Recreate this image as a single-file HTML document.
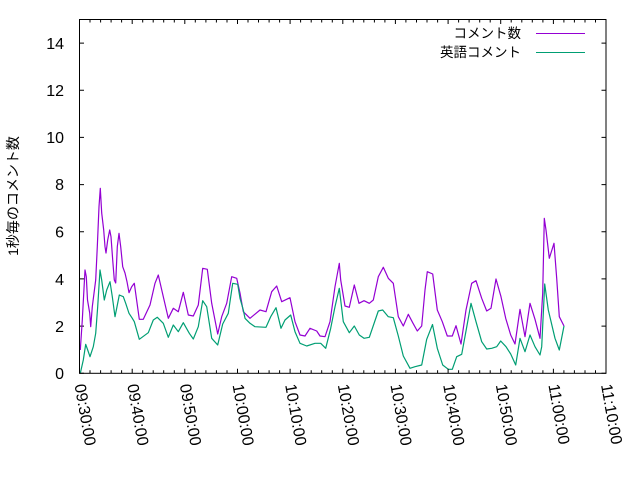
<!DOCTYPE html>
<html><head><meta charset="utf-8"><style>
html,body{margin:0;padding:0;background:#fff;}
svg{display:block;}
text{font-family:"Liberation Sans","Noto Sans CJK JP",sans-serif;fill:#000;}
</style></head><body>
<svg width="640" height="480" viewBox="0 0 640 480" xmlns="http://www.w3.org/2000/svg">
<rect x="0" y="0" width="640" height="480" fill="#fff"/>
<!-- y ticks -->
<g stroke="#000" stroke-width="1">
<path d="M79.5 373.3h4.5M79.5 326.1h4.5M79.5 278.9h4.5M79.5 231.8h4.5M79.5 184.6h4.5M79.5 137.4h4.5M79.5 90.2h4.5M79.5 43.1h4.5"/>
<path d="M606 373.3h-4.5M606 326.1h-4.5M606 278.9h-4.5M606 231.8h-4.5M606 184.6h-4.5M606 137.4h-4.5M606 90.2h-4.5M606 43.1h-4.5"/>
</g>
<g id="xt" stroke="#000" stroke-width="1"></g>
<text font-size="16" text-anchor="end" x="64" y="379">0</text>
<text font-size="16" text-anchor="end" x="64" y="332">2</text>
<text font-size="16" text-anchor="end" x="64" y="285">4</text>
<text font-size="16" text-anchor="end" x="64" y="237.5">6</text>
<text font-size="16" text-anchor="end" x="64" y="190">8</text>
<text font-size="16" text-anchor="end" x="64" y="143">10</text>
<text font-size="16" text-anchor="end" x="64" y="96">12</text>
<text font-size="16" text-anchor="end" x="64" y="49">14</text>
<text font-size="14" text-anchor="middle" transform="translate(18 196) rotate(-90)">1秒毎のコメント数</text>
<!-- x labels -->
<g font-size="16">
<text transform="translate(74.5 385) rotate(80)">09:30:00</text>
<text transform="translate(127.2 385) rotate(80)">09:40:00</text>
<text transform="translate(179.8 385) rotate(80)">09:50:00</text>
<text transform="translate(232.5 385) rotate(80)">10:00:00</text>
<text transform="translate(285.1 385) rotate(80)">10:10:00</text>
<text transform="translate(337.8 385) rotate(80)">10:20:00</text>
<text transform="translate(390.4 385) rotate(80)">10:30:00</text>
<text transform="translate(443.1 385) rotate(80)">10:40:00</text>
<text transform="translate(495.7 385) rotate(80)">10:50:00</text>
<text transform="translate(548.4 385) rotate(80)">11:00:00</text>
<text transform="translate(601 385) rotate(80)">11:10:00</text>
</g>
<!-- legend -->
<text font-size="13.5" text-anchor="end" x="521" y="38">コメント数</text>
<text font-size="13.5" text-anchor="end" x="521" y="57">英語コメント</text>
<line x1="536" y1="33.5" x2="585" y2="33.5" stroke="#9400d3" stroke-width="1"/>
<line x1="536" y1="52.5" x2="585" y2="52.5" stroke="#009e73" stroke-width="1"/>
<!-- series -->
<polyline fill="none" stroke="#9400d3" stroke-width="1.2" stroke-linejoin="round" points="80.3,350 82.3,320 85,270 86.3,276.7 87.5,300 89.7,313 90.7,326.7 92.3,306.7 95.7,280 97.3,246.7 99,206.7 100.3,188.3 101.7,213 103.7,230 105,246.7 106,253 107.7,240 109.7,230 111,236.7 112.7,260 114.3,280 115.7,283 117.3,246.7 119,233.3 120.7,246.7 122.7,266.7 125,273 127,281.7 129,292.7 131.7,286.7 134.3,283.3 139.3,319.3 143.3,319.3 150,305 155,283.3 158.3,275 163.3,296.7 168.3,318.3 173.3,308.3 178.3,311.7 183.3,292.3 188.3,315 193.3,316 198.3,305 202.7,268.3 207.3,269.3 211.7,303.3 217.7,334 221.7,316.7 226.7,303.3 231.7,276.7 236.7,278.3 240,293 243.3,311.7 250,318.3 260,310 266,311.7 271.7,291.7 276.7,286 281.7,301.7 290,297.7 295,321.7 300,335 305,336 310,328.3 316.7,331 320,336 325,336.7 330,321.7 335,286.7 339.3,263.3 340.7,280 345,306 349.3,307.3 354.3,285 359,303.3 364,300.7 369.3,303.3 373.3,300 378.3,276.7 383.3,267.3 388.3,278.3 393.3,283.3 398.3,316.7 403.3,326 408.3,314.3 412.7,322.7 417.3,331 421.7,326 425,290 427.3,271.7 432.7,274 437.3,310 442.3,321.7 447.3,336 452.3,336 456,325.7 461,344 466,310 471.7,283.3 476,280.7 481.7,298.3 486.7,311 491,308.3 496,279 501,296.7 505.7,318.3 510.7,335 515,344 520,309.3 525,336.7 530,303.3 535,319.3 540,338.3 542.7,293.3 544.3,218.3 546,230 549.3,258.3 554,243.3 556.7,278.3 559.3,316.7 564,326"/>
<polyline fill="none" stroke="#009e73" stroke-width="1.2" stroke-linejoin="round" points="80.3,373.3 83.3,360 85.7,344.3 87.7,350 90,356.7 93.3,346.7 95.7,333.3 97.7,306.7 100,270 101.7,280 104.3,300 106.7,290 110,281.7 112.3,296.7 115,316.7 117,306.7 119.3,295 123.3,296.7 125.7,303.3 129,313.3 132.3,318.3 134.3,321.7 139.3,339.3 148.3,332.7 153.3,320 157.3,317.3 163.3,323.3 168.3,337.3 173.3,325 178.3,331.7 183.3,322.7 189.3,333.3 193.3,339 198.3,326.7 202.7,300.7 206.7,306.7 211.7,338.3 217.7,345 222.7,324 228.3,313.3 232.7,283.3 237.7,284.3 240,298.3 243.3,310 245,318.3 250,323.3 255,326.7 266,327.3 270.7,316.7 276,307.7 281,328.3 285,320 290.7,315 295,331.7 300,343.3 306.7,346 315,343.3 320.7,343.3 325.7,348.3 330.7,328.3 335,306.7 339.3,288.3 343.3,321.7 349.3,332.7 354.3,326 359.3,335 364,338.3 369.3,337.3 378.3,311 382.7,310 388.3,316.7 393.3,317.7 398.3,336 403.3,356 410,368.3 415,366.7 421.7,365 426.7,339.3 432.5,324.5 437.3,348.3 442.7,365 448.3,369.3 452.3,369.3 456.7,356.7 461.7,354.3 466,331 471,303.3 476,321.7 481.7,341.7 486.7,349 491.7,348.3 496.7,346.7 500.7,341 506,346.7 510.7,354 515.7,365 520,338.3 525,351.7 530,335 535,346.7 540,355 541.7,346.7 544.7,284 548.3,310 555,338.3 559.3,350 564,326"/>
<!-- x ticks -->
<g stroke="#000" stroke-width="1">
<path d="M79.5 373.3v-4.5M132.2 373.3v-4.5M184.8 373.3v-4.5M237.5 373.3v-4.5M290.1 373.3v-4.5M342.8 373.3v-4.5M395.4 373.3v-4.5M448.1 373.3v-4.5M500.7 373.3v-4.5M553.4 373.3v-4.5M606 373.3v-4.5"/>
<path d="M79.5 19.5v4.5M132.2 19.5v4.5M184.8 19.5v4.5M237.5 19.5v4.5M290.1 19.5v4.5M342.8 19.5v4.5M395.4 19.5v4.5M448.1 19.5v4.5M500.7 19.5v4.5M553.4 19.5v4.5M606 19.5v4.5"/>
<path d="M90 373.3v-3M100.6 373.3v-3M111.1 373.3v-3M121.6 373.3v-3M142.7 373.3v-3M153.2 373.3v-3M163.7 373.3v-3M174.3 373.3v-3M195.3 373.3v-3M205.9 373.3v-3M216.4 373.3v-3M227 373.3v-3M248 373.3v-3M258.5 373.3v-3M269.1 373.3v-3M279.6 373.3v-3M300.6 373.3v-3M311.2 373.3v-3M321.7 373.3v-3M332.3 373.3v-3M353.3 373.3v-3M363.8 373.3v-3M374.4 373.3v-3M384.9 373.3v-3M405.9 373.3v-3M416.5 373.3v-3M427 373.3v-3M437.6 373.3v-3M458.6 373.3v-3M469.1 373.3v-3M479.7 373.3v-3M490.2 373.3v-3M511.2 373.3v-3M521.8 373.3v-3M532.3 373.3v-3M542.9 373.3v-3M563.9 373.3v-3M574.4 373.3v-3M585 373.3v-3M595.5 373.3v-3"/>
<path d="M90 19.5v3M100.6 19.5v3M111.1 19.5v3M121.6 19.5v3M142.7 19.5v3M153.2 19.5v3M163.7 19.5v3M174.3 19.5v3M195.3 19.5v3M205.9 19.5v3M216.4 19.5v3M227 19.5v3M248 19.5v3M258.5 19.5v3M269.1 19.5v3M279.6 19.5v3M300.6 19.5v3M311.2 19.5v3M321.7 19.5v3M332.3 19.5v3M353.3 19.5v3M363.8 19.5v3M374.4 19.5v3M384.9 19.5v3M405.9 19.5v3M416.5 19.5v3M427 19.5v3M437.6 19.5v3M458.6 19.5v3M469.1 19.5v3M479.7 19.5v3M490.2 19.5v3M511.2 19.5v3M521.8 19.5v3M532.3 19.5v3M542.9 19.5v3M563.9 19.5v3M574.4 19.5v3M585 19.5v3M595.5 19.5v3"/>
</g>
<rect x="79.5" y="19.5" width="526.5" height="353.8" fill="none" stroke="#000" stroke-width="1"/>
</svg>
</body></html>
